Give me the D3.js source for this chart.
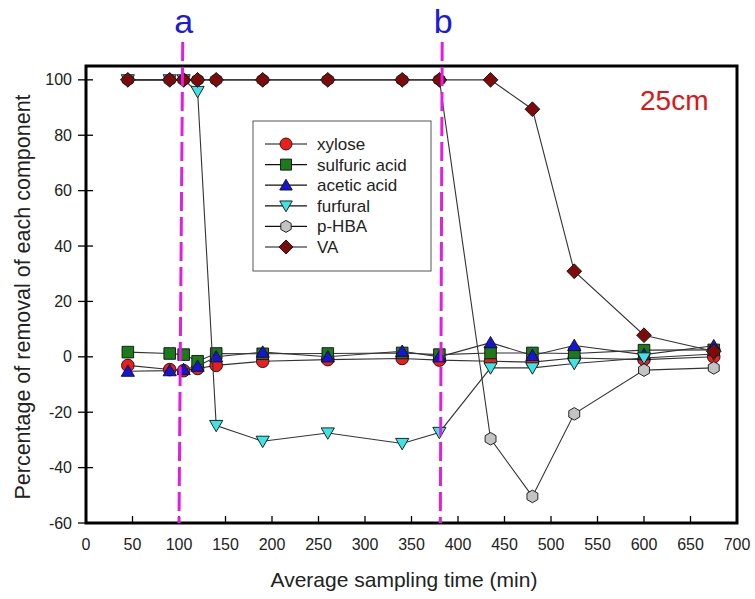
<!DOCTYPE html>
<html>
<head>
<meta charset="utf-8">
<script src="https://cdn.jsdelivr.net/npm/d3@7"></script>
<style>
  html, body { margin: 0; padding: 0; background: #fff; }
  svg { display: block; font-family: "Liberation Sans", Arial, sans-serif; }
</style>
</head>
<body>
<svg id="chart" width="755" height="599"></svg>
<script>
// Sampling times (min)
const times = [45, 90, 105, 120, 140, 190, 260, 340, 380, 435, 480, 525, 600, 675];

// Removal (%) of each component at each sampling time
const xylose    = [-3.1, -4.6, -5.0, -4.2, -3.1, -1.6, -1.0, -0.6, -1.2, -1.6, -1.9, -0.4, -1.0, 0.0];
const sulfuric  = [1.7, 1.2, 0.8, -1.6, 1.2, 1.1, 1.2, 1.4, 0.8, 1.4, 1.4, 1.2, 2.4, 2.5];
const acetic    = [-5.2, -5.0, -4.6, -3.4, 0.0, 1.7, 0.0, 2.0, 0.0, 5.1, 0.5, 4.1, 0.8, 4.0];
const furfural  = [100, 100, 100, 95.8, -24.8, -30.5, -27.5, -31.3, -27.3, -4.0, -4.0, -2.4, -0.4, 1.0];
const pHBA      = [100, 100, 100, 100, 100, 100, 100, 100, 100, -29.6, -50.4, -20.6, -4.8, -4.0];
const VA        = [100, 100, 100, 100, 100, 100, 100, 100, 100, 100, 89.4, 30.9, 7.8, 2.0];

const seriesNames = ["xylose", "sulfuric acid", "acetic acid", "furfural", "p-HBA", "VA"];
const seriesValues = [xylose, sulfuric, acetic, furfural, pHBA, VA];

// Axis ticks
const xTicks = d3.range(0, 701, 50);
const yTicks = d3.range(-60, 101, 20);

// Breakthrough markers: [label, time at top, time at bottom]
const markers = [["a", 104, 100], ["b", 383, 381]];
const panelLabel = "25cm";

// ---- drawing ----
const svg = d3.select("#chart");
const plot = { left: 86, right: 737, top: 66, bottom: 523 };

const x = d3.scaleLinear().domain([0, 700]).range([plot.left, plot.right]);
const y = d3.scaleLinear().domain([-60, 105]).range([plot.bottom, plot.top]);

const symbolPaths = {
  circle: r => `M${r},0A${r},${r},0,1,1,${-r},0A${r},${r},0,1,1,${r},0Z`,
  square: s => `M${-s},${-s}H${s}V${s}H${-s}Z`,
  triUp: s => `M0,${-s * 1.05}L${s * 1.1},${s * 0.85}L${-s * 1.1},${s * 0.85}Z`,
  triDown: s => `M0,${s * 1.05}L${s * 1.1},${-s * 0.85}L${-s * 1.1},${-s * 0.85}Z`,
  hexagon: s => {
    const pts = d3.range(6).map(i => {
      const a = Math.PI / 2 + i * Math.PI / 3;
      return [s * Math.cos(a), s * Math.sin(a)];
    });
    return "M" + pts.map(p => p.join(",")).join("L") + "Z";
  },
  diamond: s => `M0,${-s}L${s},0L0,${s}L${-s},0Z`
};

const styles = [
  { shape: "circle",  size: 6.3, fill: "#ee1c1c" },
  { shape: "square",  size: 5.8, fill: "#1b7a1b" },
  { shape: "triUp",   size: 6.0, fill: "#1515d8" },
  { shape: "triDown", size: 6.0, fill: "#3fe3e3" },
  { shape: "hexagon", size: 6.3, fill: "#c3c3c3" },
  { shape: "diamond", size: 7.4, fill: "#7d0b0b" }
];

const line = d3.line().x(d => x(d[0])).y(d => y(d[1]));

// series lines and symbols
seriesValues.forEach((vals, i) => {
  const pts = times.map((t, j) => [t, vals[j]]);
  const st = styles[i];
  svg.append("path")
    .attr("d", line(pts))
    .attr("fill", "none")
    .attr("stroke", "#333")
    .attr("stroke-width", 1.1);
  svg.append("g").selectAll("path")
    .data(pts)
    .join("path")
    .attr("transform", d => `translate(${x(d[0])},${y(d[1])})`)
    .attr("d", symbolPaths[st.shape](st.size))
    .attr("fill", st.fill)
    .attr("stroke", "#111")
    .attr("stroke-width", 0.9);
});

// frame
svg.append("rect")
  .attr("x", plot.left).attr("y", plot.top)
  .attr("width", plot.right - plot.left).attr("height", plot.bottom - plot.top)
  .attr("fill", "none").attr("stroke", "#000").attr("stroke-width", 3);

// x axis ticks (inward) and labels
const xAxis = svg.append("g");
xAxis.selectAll("line").data(xTicks.slice(1, -1)).join("line")
  .attr("x1", d => x(d)).attr("x2", d => x(d))
  .attr("y1", plot.bottom).attr("y2", plot.bottom - 7)
  .attr("stroke", "#000").attr("stroke-width", 1.3);
xAxis.selectAll("text").data(xTicks).join("text")
  .attr("x", d => x(d)).attr("y", 550)
  .attr("text-anchor", "middle")
  .attr("font-size", 16).attr("fill", "#222")
  .text(d => d);

// y axis ticks (crossing) and labels
const yAxis = svg.append("g");
yAxis.selectAll("line").data(yTicks).join("line")
  .attr("x1", plot.left - 8).attr("x2", plot.left + 7)
  .attr("y1", d => y(d)).attr("y2", d => y(d))
  .attr("stroke", "#000").attr("stroke-width", 1.3);
yAxis.selectAll("text").data(yTicks).join("text")
  .attr("x", 72).attr("y", d => y(d) + 5.5)
  .attr("text-anchor", "end")
  .attr("font-size", 16).attr("fill", "#222")
  .text(d => d);

// axis titles
svg.append("text")
  .attr("x", 404).attr("y", 587)
  .attr("text-anchor", "middle")
  .attr("font-size", 21).attr("fill", "#222")
  .text("Average sampling time (min)");
svg.append("text")
  .attr("transform", "translate(30,297) rotate(-90)")
  .attr("text-anchor", "middle")
  .attr("font-size", 21.5).attr("fill", "#222")
  .text("Percentage of removal of each component");

// panel label
svg.append("text")
  .attr("x", 640).attr("y", 110)
  .attr("font-size", 28).attr("fill", "#e01515")
  .text(panelLabel);

// legend
const legend = svg.append("g");
legend.append("rect")
  .attr("x", 253).attr("y", 121).attr("width", 178).attr("height", 150)
  .attr("fill", "#fff").attr("stroke", "#555").attr("stroke-width", 1);
seriesNames.forEach((name, i) => {
  const cy = 144 + i * 20.6;
  const st = styles[i];
  legend.append("line")
    .attr("x1", 265).attr("x2", 307).attr("y1", cy).attr("y2", cy)
    .attr("stroke", "#111").attr("stroke-width", 1.2);
  legend.append("path")
    .attr("transform", `translate(286,${cy})`)
    .attr("d", symbolPaths[st.shape](st.size * 0.95))
    .attr("fill", st.fill).attr("stroke", "#111").attr("stroke-width", 0.9);
  legend.append("text")
    .attr("x", 317).attr("y", cy + 6)
    .attr("font-size", 17).attr("fill", "#222")
    .text(name);
});

// breakthrough lines a and b
markers.forEach(([lab, tTop, tBot]) => {
  svg.append("line")
    .attr("x1", x(tTop)).attr("y1", 42)
    .attr("x2", x(tBot)).attr("y2", plot.bottom)
    .attr("stroke", "#e31ee3").attr("stroke-width", 3)
    .attr("stroke-dasharray", "19,6");
  svg.append("text")
    .attr("x", x(tTop) + 1).attr("y", 33)
    .attr("text-anchor", "middle")
    .attr("font-size", 34).attr("fill", "#1a1ad8")
    .text(lab);
});
</script>
</body>
</html>
